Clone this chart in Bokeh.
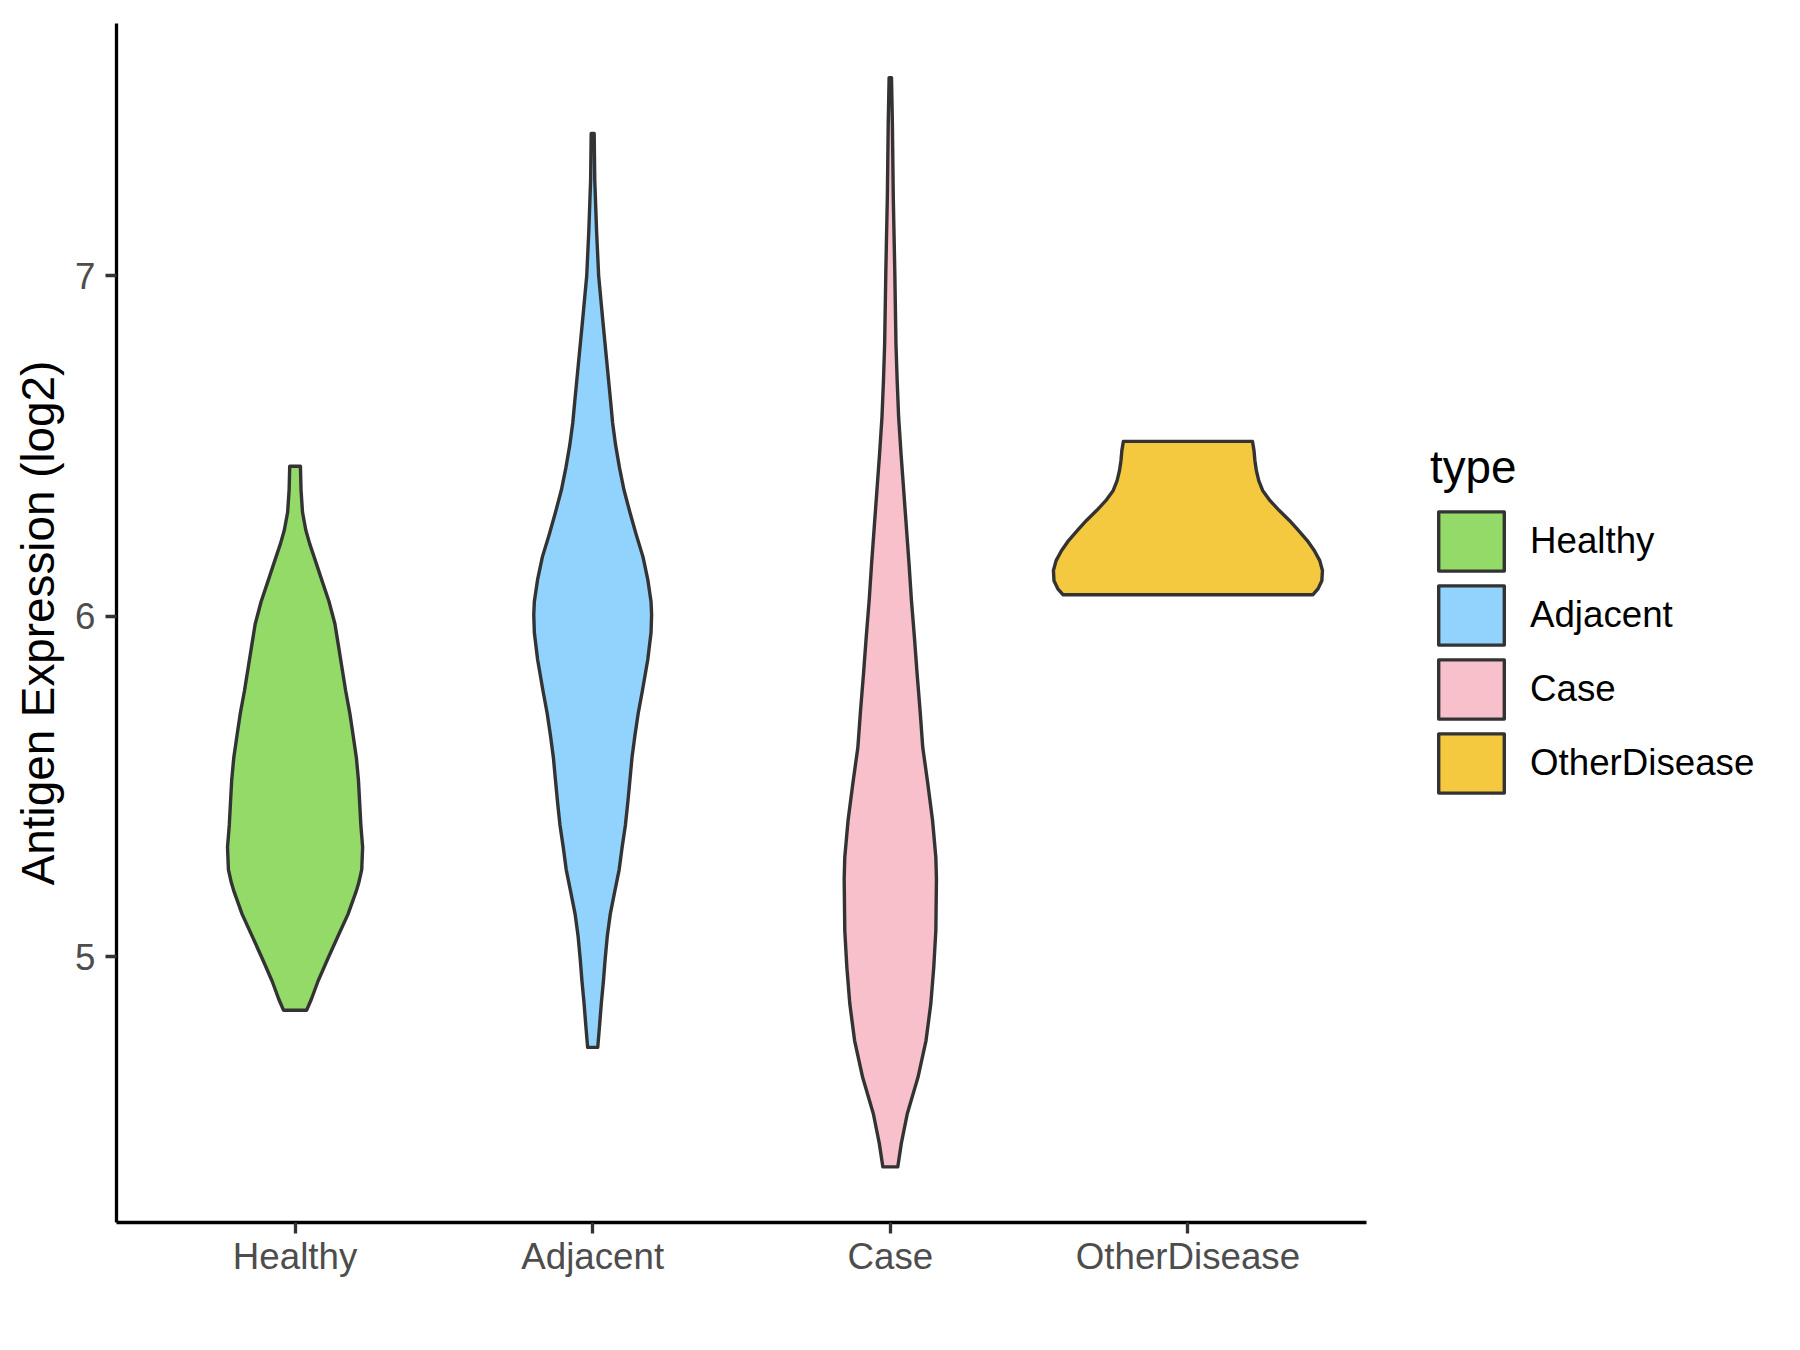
from bokeh.plotting import figure
from bokeh.models import Range1d, FixedTicker, Legend, LegendItem
from bokeh.embed import file_html
from bokeh.resources import INLINE

# ---- data ----
categories = ["Healthy", "Adjacent", "Case", "OtherDisease"]
positions = [1, 2, 3, 4]
colors = ["#93DA69", "#92D3FE", "#F7C0CB", "#F5C93F"]

# violin outlines: expression level (log2) and half-width (category units)
healthy_y = [6.440, 6.371, 6.305, 6.253, 6.213, 6.174, 6.108, 6.043, 5.977,
             5.912, 5.846, 5.781, 5.715, 5.650, 5.584, 5.518, 5.453, 5.387,
             5.322, 5.256, 5.217, 5.191, 5.125, 5.060, 4.994, 4.928, 4.876,
             4.843]
healthy_hw = [0.018, 0.020, 0.025, 0.036, 0.049, 0.064, 0.089, 0.114, 0.134,
              0.146, 0.158, 0.170, 0.184, 0.195, 0.206, 0.213, 0.217, 0.221,
              0.227, 0.224, 0.214, 0.205, 0.178, 0.144, 0.110, 0.077, 0.055,
              0.039]

adjacent_y = [7.417, 7.279, 7.132, 7.000, 6.868, 6.750, 6.633, 6.567, 6.502,
              6.436, 6.371, 6.305, 6.240, 6.174, 6.108, 6.043, 6.004, 5.951,
              5.872, 5.781, 5.715, 5.650, 5.584, 5.518, 5.453, 5.387, 5.322,
              5.256, 5.191, 5.125, 5.060, 4.994, 4.928, 4.863, 4.797, 4.734]
adjacent_hw = [0.005, 0.007, 0.013, 0.020, 0.034, 0.047, 0.060, 0.067, 0.077,
               0.090, 0.105, 0.125, 0.146, 0.169, 0.185, 0.196, 0.198, 0.196,
               0.185, 0.167, 0.153, 0.142, 0.132, 0.125, 0.118, 0.110, 0.099,
               0.089, 0.074, 0.059, 0.049, 0.042, 0.036, 0.029, 0.023, 0.017]

case_y = [7.581, 7.445, 7.230, 7.015, 6.800, 6.692, 6.584, 6.477, 6.369,
          6.261, 6.153, 6.046, 5.938, 5.831, 5.723, 5.615, 5.508, 5.400,
          5.292, 5.228, 5.077, 4.969, 4.861, 4.754, 4.646, 4.539, 4.452,
          4.383]
case_hw = [0.004, 0.007, 0.010, 0.015, 0.019, 0.023, 0.028, 0.036, 0.045,
           0.054, 0.063, 0.071, 0.081, 0.090, 0.100, 0.109, 0.126, 0.142,
           0.153, 0.155, 0.153, 0.146, 0.136, 0.120, 0.093, 0.057, 0.037,
           0.025]

other_y = [6.513, 6.486, 6.457, 6.427, 6.398, 6.369, 6.339, 6.310, 6.281,
           6.251, 6.222, 6.192, 6.163, 6.134, 6.104, 6.080, 6.063]
other_hw = [0.217, 0.222, 0.225, 0.230, 0.238, 0.251, 0.276, 0.307, 0.341,
            0.372, 0.401, 0.425, 0.443, 0.452, 0.450, 0.437, 0.420]

y_ticks = [5, 6, 7]

violins = [(healthy_y, healthy_hw), (adjacent_y, adjacent_hw),
           (case_y, case_hw), (other_y, other_hw)]

FONT = "Liberation Sans"

p = figure(frame_width=1250, frame_height=1199,
           x_range=Range1d(0.4, 4.6), y_range=Range1d(4.2197, 7.740),
           output_backend="svg", toolbar_location=None,
           min_border_left=116, min_border_right=424,
           min_border_top=23, min_border_bottom=118)

p.outline_line_color = None
p.xgrid.visible = False
p.ygrid.visible = False
p.background_fill_color = "white"
p.border_fill_color = "white"

items = []
for cat, pos, col, (ys, hws) in zip(categories, positions, colors, violins):
    xs = [pos + h for h in hws] + [pos - h for h in reversed(hws)]
    yy = list(ys) + list(reversed(ys))
    r = p.patch(xs, yy, fill_color=col, line_color="#333333", line_width=3.4,
                line_join="round")
    items.append(LegendItem(label=cat, renderers=[r]))

for ax in (p.xaxis[0], p.yaxis[0]):
    ax.axis_line_color = "black"
    ax.axis_line_width = 3.3
    ax.major_tick_line_color = "#333333"
    ax.major_tick_line_width = 3.3
    ax.major_tick_out = 11
    ax.major_tick_in = 0
    ax.minor_tick_line_color = None
    ax.major_label_text_font = FONT
    ax.major_label_text_font_size = "36.7px"
    ax.major_label_text_color = "#4D4D4D"

p.yaxis.major_label_standoff = 10
p.xaxis.major_label_standoff = 2

p.xaxis.ticker = FixedTicker(ticks=positions)
p.xaxis.major_label_overrides = {pos: cat for pos, cat in zip(positions, categories)}
p.yaxis.ticker = FixedTicker(ticks=y_ticks)

p.yaxis.axis_label = "Antigen Expression (log2)"
p.yaxis.axis_label_text_font = FONT
p.yaxis.axis_label_text_font_size = "45.8px"
p.yaxis.axis_label_text_font_style = "normal"
p.yaxis.axis_label_text_color = "black"
p.yaxis.axis_label_standoff = 8

legend = Legend(items=items, location=(64, 422),
                title="type", title_text_font=FONT,
                title_text_font_size="45.8px", title_text_color="black",
                title_text_font_style="normal", title_standoff=10,
                label_text_font=FONT, label_text_font_size="36.7px",
                label_text_color="black", label_standoff=18,
                glyph_width=82, glyph_height=74, spacing=0,
                padding=0, margin=0, border_line_color=None,
                background_fill_alpha=0)
p.add_layout(legend, "right")

open("out.html", "w").write(file_html(p, INLINE))
